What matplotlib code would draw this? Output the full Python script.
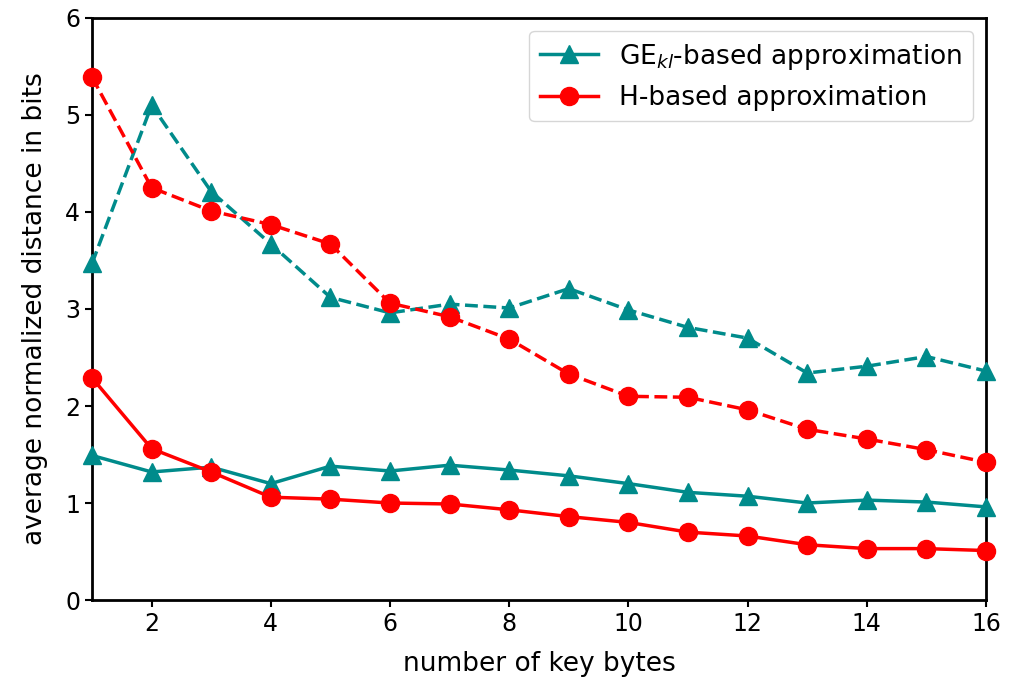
import numpy as np
import matplotlib
matplotlib.use("Agg")
import matplotlib.pyplot as plt

# data
key_bytes = np.arange(1, 17)
ge_dashed = [3.47, 5.10, 4.21, 3.67, 3.12, 2.96, 3.05, 3.01, 3.21, 2.99, 2.81, 2.70, 2.34, 2.41, 2.51, 2.36]
h_dashed = [5.39, 4.25, 4.01, 3.87, 3.67, 3.06, 2.92, 2.69, 2.33, 2.10, 2.09, 1.96, 1.76, 1.66, 1.55, 1.42]
ge_solid = [1.49, 1.32, 1.37, 1.20, 1.38, 1.33, 1.39, 1.34, 1.28, 1.20, 1.11, 1.07, 1.00, 1.03, 1.01, 0.96]
h_solid = [2.29, 1.56, 1.32, 1.06, 1.04, 1.00, 0.99, 0.93, 0.86, 0.80, 0.70, 0.66, 0.57, 0.53, 0.53, 0.51]

teal = '#008B8B'
red = '#FF0000'

fig = plt.figure(figsize=(10.17, 6.8), dpi=100)
ax = fig.add_axes([0.0905, 0.1176, 0.879, 0.856])

ax.plot(key_bytes, ge_solid, '-', color=teal, marker='^', ms=13, lw=2.5,
        label='GE$_{kl}$-based approximation', clip_on=False, zorder=3)
ax.plot(key_bytes, h_solid, '-', color=red, marker='o', ms=13, lw=2.5,
        label='H-based approximation', clip_on=False, zorder=3)
ax.plot(key_bytes, ge_dashed, '--', color=teal, marker='^', ms=13, lw=2.5, clip_on=False, zorder=3)
ax.plot(key_bytes, h_dashed, '--', color=red, marker='o', ms=13, lw=2.5, clip_on=False, zorder=3)

ax.set_xlim(1, 16)
ax.set_ylim(0, 6)
ax.set_xticks(np.arange(2, 17, 2))
ax.set_yticks(np.arange(0, 7, 1))
ax.tick_params(labelsize=17, width=1.5, length=5)
for s in ax.spines.values():
    s.set_linewidth(2)
ax.set_xlabel('number of key bytes', fontsize=19, labelpad=11)
ax.set_ylabel('average normalized distance in bits', fontsize=19, labelpad=12)
ax.legend(loc='upper right', fontsize=19, handlelength=2.2)

fig.savefig('out.png', dpi=100)
